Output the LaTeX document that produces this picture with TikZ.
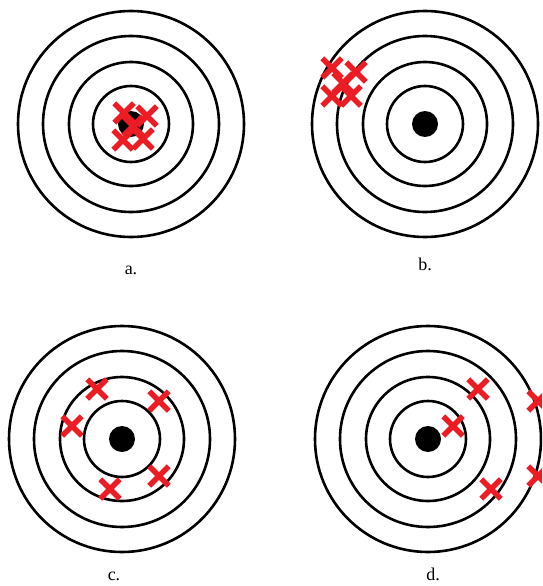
\documentclass[tikz,border=0pt]{standalone}
\usepackage{fontspec}
\setmainfont{Liberation Serif}
\usetikzlibrary{shapes.misc}
\definecolor{hitred}{RGB}{236,28,36}
\tikzset{
  ring/.style={draw=black, line width=2.6pt},
  bullseye/.style={circle, fill=black, minimum size=26pt, inner sep=0pt},
  hit/.style={cross out, draw=hitred, line width=5.5pt, minimum size=14pt, inner sep=0pt},
  caption/.style={font=\fontsize{18}{21}\selectfont, anchor=base, inner sep=0pt}
}

\begin{document}
\begin{tikzpicture}[x=1pt, y=-1pt]
\clip (0,0) rectangle (542,586);
\fill[white] (0,0) rectangle (542,586);

% four targets
\foreach \name/\cx/\cy in {ta/131/124, tb/425/124, tc/122/439, td/428/439} {
  \foreach \r in {38,62,88,113}
    \draw[ring] (\cx,\cy) circle (\r pt);
  \node[bullseye] (\name) at (\cx,\cy) {};
}

% shots
\foreach \x/\y [count=\i] in {124/113, 147/116, 123/140, 143/139, 133/126}
  \node[hit] (ha\i) at (\x,\y) {};
\foreach \x/\y [count=\i] in {332/68, 356/72, 332/96, 351/96, 343/83}
  \node[hit] (hb\i) at (\x,\y) {};
\foreach \x/\y [count=\i] in {97/389, 159/401, 72/426, 159/476, 110/489}
  \node[hit] (hc\i) at (\x,\y) {};
\foreach \x/\y [count=\i] in {478/389, 453/426, 491/489, 538/401, 538/476}
  \node[hit] (hd\i) at (\x,\y) {};

% captions
\node[caption] (capa) at (131,274) {a.};
\node[caption] (capb) at (425,270) {b.};
\node[caption] (capc) at (114,580) {c.};
\node[caption] (capd) at (433,580) {d.};
\end{tikzpicture}
\end{document}
